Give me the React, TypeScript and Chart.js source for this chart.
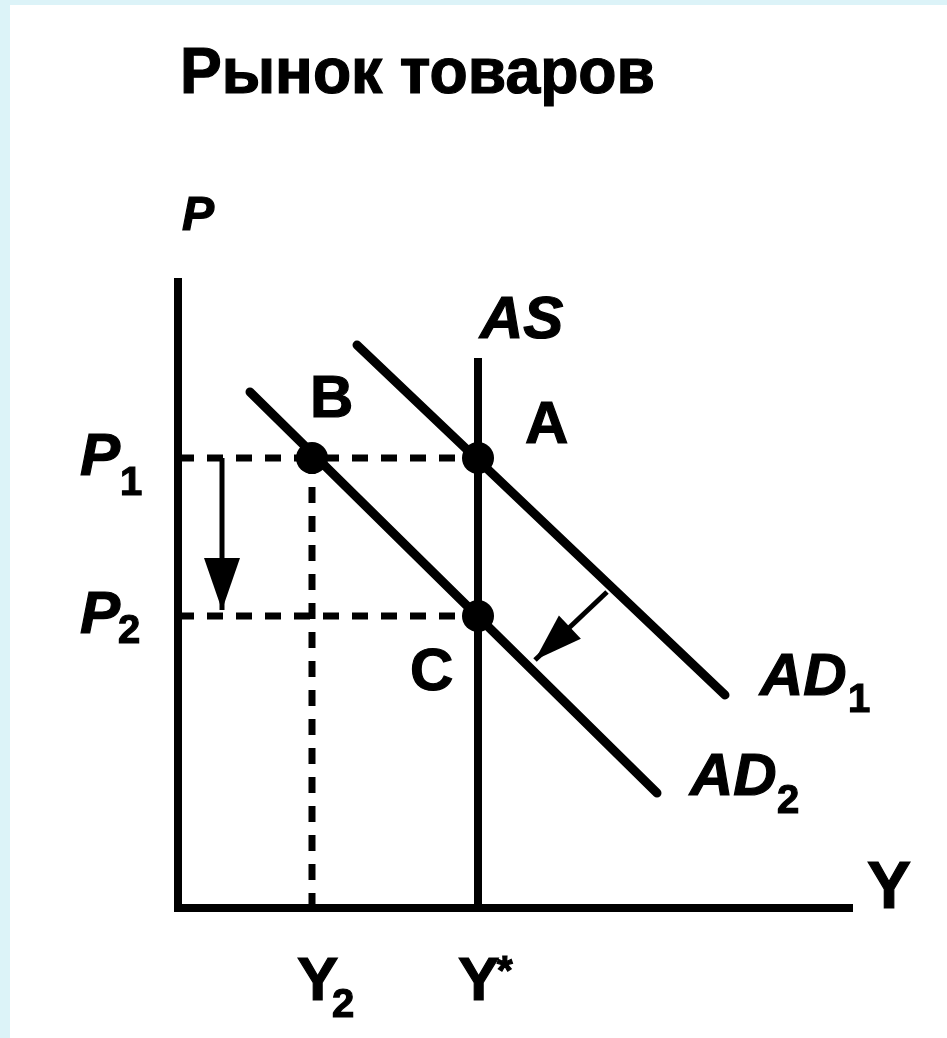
import React, { useEffect, useRef } from "react";
import { Chart, registerables } from "chart.js";

Chart.register(...registerables);

// Scale ranges (data units; origin of the diagram is 0,0)
const X_RANGE = [-17.8, 76.9];
const Y_RANGE = [-13.0, 90.8];

// Economic values
const Y_STAR = 30;
const Y_2 = 13.4;
const P_1 = 45;
const P_2 = 29.2;
const AXIS_Y_TOP = 63;
const AXIS_X_END = 67.5;
const AS_TOP = 55;

const AD1_X = [17.9, 54.7];
const AD1_Y = [56.3, 21.3];
const AD2_X = [7.2, 47.9];
const AD2_Y = [51.6, 11.5];

const EQ_X = [Y_2, Y_STAR, Y_STAR];
const EQ_Y = [P_1, P_1, P_2];

const PRICE_ARROW_X = [4.4, 4.4];
const PRICE_ARROW_Y = [P_1, 29.8];
const SHIFT_ARROW_X = [42.9, 35.7];
const SHIFT_ARROW_Y = [31.6, 24.8];

const TITLE = "Рынок товаров";

// labels: text, x, y (data units), font
const LABELS: { t: string; x: number; y: number; f: string }[] = [
  { t: "P", x: 0.4, y: 67.8, f: "italic bold 48px 'Liberation Sans'" },
  { t: "AS", x: 30.2, y: 57, f: "italic bold 60px 'Liberation Sans'" },
  { t: "A", x: 34.7, y: 46.5, f: "bold 60px 'Liberation Sans'" },
  { t: "B", x: 13.2, y: 49.1, f: "bold 60px 'Liberation Sans'" },
  { t: "C", x: 23.2, y: 21.8, f: "bold 60px 'Liberation Sans'" },
  { t: "AD", x: 58.2, y: 21.3, f: "italic bold 60px 'Liberation Sans'" },
  { t: "1", x: 67, y: 19.6, f: "bold 40px 'Liberation Sans'" },
  { t: "AD", x: 51.2, y: 11.3, f: "italic bold 60px 'Liberation Sans'" },
  { t: "2", x: 59.9, y: 9.5, f: "bold 40px 'Liberation Sans'" },
  { t: "Y", x: 68.9, y: 0, f: "bold 66px 'Liberation Sans'" },
  { t: "P", x: -9.8, y: 43.3, f: "italic bold 60px 'Liberation Sans'" },
  { t: "1", x: -5.8, y: 41.3, f: "bold 40px 'Liberation Sans'" },
  { t: "P", x: -9.8, y: 27.5, f: "italic bold 60px 'Liberation Sans'" },
  { t: "2", x: -6.0, y: 26.5, f: "bold 40px 'Liberation Sans'" },
  { t: "Y", x: 11.9, y: -9.2, f: "bold 62px 'Liberation Sans'" },
  { t: "2", x: 15.4, y: -10.9, f: "bold 40px 'Liberation Sans'" },
  { t: "Y", x: 28, y: -9.2, f: "bold 62px 'Liberation Sans'" },
  { t: "*", x: 31.9, y: -7.6, f: "bold 40px 'Liberation Sans'" },
];

const TITLE_POS = { x: 0.2, y: 81.5, width: 475 };

const zip = (xs: number[], ys: number[]) => xs.map((x, i) => ({ x, y: ys[i] }));

const overlay = {
  id: "overlay",
  afterDatasetsDraw(chart: any) {
    const { ctx } = chart;
    const sx = chart.scales.x;
    const sy = chart.scales.y;
    const px = (v: number) => sx.getPixelForValue(v);
    const py = (v: number) => sy.getPixelForValue(v);
    ctx.save();
    ctx.fillStyle = "#000";
    ctx.strokeStyle = "#000";

    // arrow heads
    const head = (xs: number[], ys: number[], len: number, hw: number) => {
      const x0 = px(xs[0]), y0 = py(ys[0]);
      const x1 = px(xs[1]), y1 = py(ys[1]);
      const d = Math.hypot(x1 - x0, y1 - y0);
      const ux = (x1 - x0) / d, uy = (y1 - y0) / d;
      const bx = x1 - ux * len, by = y1 - uy * len;
      ctx.beginPath();
      ctx.moveTo(x1, y1);
      ctx.lineTo(bx - uy * hw, by + ux * hw);
      ctx.lineTo(bx + uy * hw, by - ux * hw);
      ctx.closePath();
      ctx.fill();
    };
    head(PRICE_ARROW_X, PRICE_ARROW_Y, 52, 18);
    head(SHIFT_ARROW_X, SHIFT_ARROW_Y, 48, 16);

    // title
    ctx.textBaseline = "alphabetic";
    ctx.textAlign = "left";
    ctx.font = "bold 64px 'Liberation Sans'";
    const w = ctx.measureText(TITLE).width;
    ctx.save();
    ctx.translate(px(TITLE_POS.x), py(TITLE_POS.y));
    ctx.scale(TITLE_POS.width / w, 1);
    ctx.fillText(TITLE, 0, 0);
    ctx.lineWidth = 1.2;
    ctx.strokeText(TITLE, 0, 0);
    ctx.restore();

    for (const l of LABELS) {
      ctx.font = l.f;
      ctx.lineWidth = 1.2;
      ctx.fillText(l.t, px(l.x), py(l.y));
      ctx.strokeText(l.t, px(l.x), py(l.y));
    }
    ctx.restore();
  },
};

export default function App() {
  const ref = useRef<HTMLCanvasElement>(null);
  useEffect(() => {
    if (!ref.current) return;
    const solid = (data: any[], width: number, cap = "butt") => ({
      data,
      showLine: true,
      borderColor: "#000",
      backgroundColor: "#000",
      borderWidth: width,
      borderCapStyle: cap,
      borderJoinStyle: "miter",
      pointRadius: 0,
      tension: 0,
    });
    const dashed = (data: any[]) => ({
      ...solid(data, 7),
      borderDash: [16, 13],
    });
    const chart = new Chart(ref.current, {
      type: "scatter",
      data: {
        datasets: [
          {
            data: zip(EQ_X, EQ_Y),
            showLine: false,
            pointRadius: 16,
            pointBackgroundColor: "#000",
            pointBorderColor: "#000",
            pointBorderWidth: 0,
          } as any,
          solid(zip(AD1_X, AD1_Y), 9, "round"),
          solid(zip(AD2_X, AD2_Y), 9, "round"),
          solid([{ x: Y_STAR, y: 0 }, { x: Y_STAR, y: AS_TOP }], 8),
          solid([{ x: 0, y: AXIS_Y_TOP }, { x: 0, y: 0 }, { x: AXIS_X_END, y: 0 }], 8),
          solid(zip(PRICE_ARROW_X, PRICE_ARROW_Y), 5),
          solid(zip(SHIFT_ARROW_X, SHIFT_ARROW_Y), 5),
          dashed([{ x: 0, y: P_1 }, { x: Y_STAR, y: P_1 }]),
          dashed([{ x: 0, y: P_2 }, { x: Y_STAR, y: P_2 }]),
          dashed([{ x: Y_2, y: P_1 }, { x: Y_2, y: 0 }]),
        ] as any,
      },
      options: {
        animation: false,
        responsive: false,
        maintainAspectRatio: false,
        layout: { padding: 0, autoPadding: false },
        plugins: { legend: { display: false }, tooltip: { enabled: false } },
        scales: {
          x: { type: "linear", min: X_RANGE[0], max: X_RANGE[1], display: false },
          y: { type: "linear", min: Y_RANGE[0], max: Y_RANGE[1], display: false },
        },
        events: [],
      },
      plugins: [overlay],
    });
    return () => chart.destroy();
  }, []);

  return (
    <div
      style={{
        position: "fixed",
        left: 0,
        top: 0,
        width: 947,
        height: 1038,
        background: "#dcf3f8",
      }}
    >
      <div
        style={{
          position: "absolute",
          left: 10,
          top: 5,
          right: 0,
          bottom: 0,
          background: "#ffffff",
        }}
      />
      <canvas
        ref={ref}
        width={947}
        height={1038}
        style={{ position: "absolute", left: 0, top: 0, width: 947, height: 1038 }}
      />
    </div>
  );
}
